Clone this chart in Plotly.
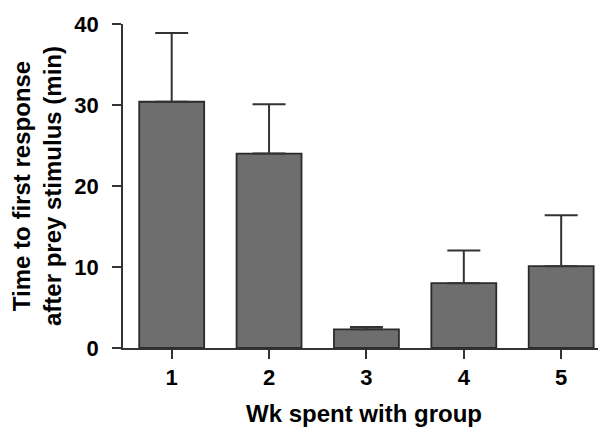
import plotly.graph_objects as go

weeks = ["1", "2", "3", "4", "5"]
week_pos = [1, 2, 3, 4, 5]
mean_time = [30.4, 24.0, 2.3, 8.0, 10.1]
err_plus = [8.5, 6.1, 0.3, 4.05, 6.3]
err_minus = [0, 0, 0, 0, 0]
y_ticks = [0, 10, 20, 30, 40]

font_family = "Liberation Sans, Arial, sans-serif"

fig = go.Figure()
fig.add_trace(go.Bar(
    x=week_pos,
    y=mean_time,
    marker=dict(color="#6e6e6e", line=dict(color="#2b2b2b", width=1.8)),
    error_y=dict(type="data", symmetric=False, array=err_plus, arrayminus=err_minus,
                 color="#333333", thickness=2, width=16.5),
    width=0.667,
    showlegend=False,
))

fig.update_layout(
    width=598, height=419,
    margin=dict(l=115, r=1, t=16, b=79, autoexpand=False),
    paper_bgcolor="white", plot_bgcolor="white",
    font=dict(family=font_family, color="black"),
    xaxis=dict(
        range=[0.5, 5.45], tickmode="array", tickvals=week_pos, ticktext=weeks,
        showgrid=False, zeroline=False, showline=True, linecolor="#333333", linewidth=1.5,
        ticks="outside", ticklen=9, tickwidth=1.5, tickcolor="#333333",
        tickfont=dict(size=22, family=font_family, color="black", weight="bold"),
        title=dict(text="<b>Wk spent with group</b>", font=dict(size=24, family=font_family),
                   standoff=19),
    ),
    yaxis=dict(
        range=[0, 40], tickmode="array", tickvals=y_ticks,
        showgrid=False, zeroline=False, showline=True, linecolor="#333333", linewidth=1.5,
        ticks="outside", ticklen=9, tickwidth=1.5, tickcolor="#333333",
        ticklabelstandoff=9,
        tickfont=dict(size=22, family=font_family, color="black", weight="bold"),
        title=dict(text="<b>Time to first response<br>after prey stimulus (min)</b>",
                   font=dict(size=24, family=font_family), standoff=14),
    ),
)

fig.write_html("out.html")
